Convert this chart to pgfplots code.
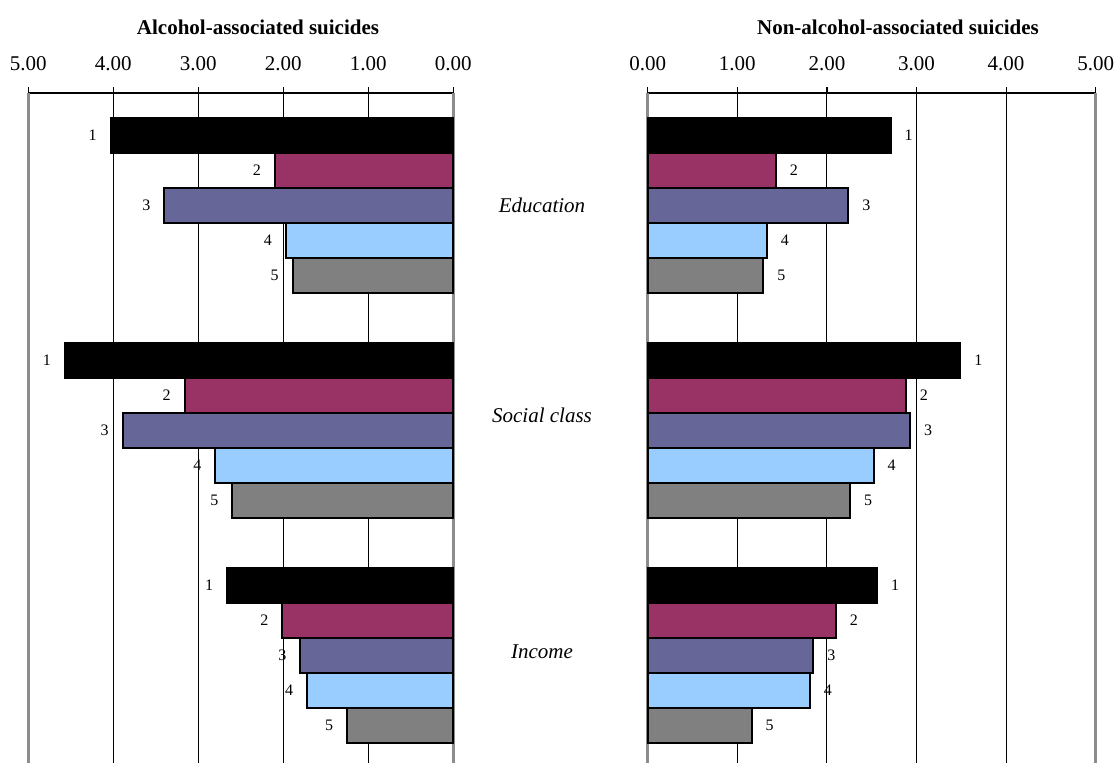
\documentclass[border=0pt]{standalone}
\usepackage{pgfplots}
\pgfplotsset{compat=1.18}
\usepackage{fontspec}
\setmainfont{Liberation Serif}
\definecolor{s2}{HTML}{993366}
\definecolor{s3}{HTML}{666699}
\definecolor{s4}{HTML}{99CCFF}
\definecolor{s5}{HTML}{808080}
\definecolor{edge}{HTML}{8C8C8C}
\newcommand{\bigf}{\fontsize{10.5}{12.6}\selectfont}
\newcommand{\smallf}{\fontsize{8}{9.6}\selectfont}
\pgfplotsset{
  panel/.style={
    scale only axis, height=337.5pt,
    xbar, bar width=17.5pt,
    xmin=0, xmax=5, ymin=-0.5, ymax=2.5, y dir=reverse,
    axis x line*=top, axis y line=none,
    axis line style={-},
    x axis line style={black, line width=0.75pt},
    xtick={1,2,3,4}, extra x ticks={0,5},
    xmajorgrids, grid style={black, line width=0.5pt},
    extra x tick style={grid style={edge, line width=1.5pt}, tick style={black, line width=0.6pt}},
    tick align=outside, major tick length=3pt,
    tick style={black, line width=0.6pt},
    ytick=\empty,
    /pgf/number format/.cd, fixed, fixed zerofill, precision=2, assume math mode=true,
    /pgfplots/.cd,
    xticklabel style={font=\bigf, yshift=4.5pt},
    clip=false,
    nodes near coords style={font=\smallf, text=black, inner sep=0pt},
  }
}
\begin{document}
\begin{tikzpicture}
\path[use as bounding box] (0,0) rectangle (559.5pt,-381pt);
% Left panel
\begin{axis}[panel, width=212.5pt, x dir=reverse,
  at={(14.15pt,-46.5pt)}, anchor=north west,
  every node near coord/.append style={anchor=east, xshift=-6.5pt}]
\addplot[fill=black, draw=black, line width=1pt, bar shift=35pt, nodes near coords={1}]
  coordinates {(4.03,0) (4.57,1) (2.66,2)};
\addplot[fill=s2, draw=black, line width=1pt, bar shift=17.5pt, nodes near coords={2}]
  coordinates {(2.10,0) (3.16,1) (2.01,2)};
\addplot[fill=s3, draw=black, line width=1pt, bar shift=0pt, nodes near coords={3}]
  coordinates {(3.40,0) (3.89,1) (1.80,2)};
\addplot[fill=s4, draw=black, line width=1pt, bar shift=-17.5pt, nodes near coords={4}]
  coordinates {(1.97,0) (2.80,1) (1.72,2)};
\addplot[fill=s5, draw=black, line width=1pt, bar shift=-35pt, nodes near coords={5}]
  coordinates {(1.89,0) (2.60,1) (1.25,2)};
\end{axis}
% Right panel
\begin{axis}[panel, width=224pt,
  at={(323.85pt,-46.5pt)}, anchor=north west,
  every node near coord/.append style={anchor=west, xshift=6.5pt}]
\addplot[fill=black, draw=black, line width=1pt, bar shift=35pt, nodes near coords={1}]
  coordinates {(2.71,0) (3.49,1) (2.56,2)};
\addplot[fill=s2, draw=black, line width=1pt, bar shift=17.5pt, nodes near coords={2}]
  coordinates {(1.43,0) (2.88,1) (2.10,2)};
\addplot[fill=s3, draw=black, line width=1pt, bar shift=0pt, nodes near coords={3}]
  coordinates {(2.24,0) (2.93,1) (1.85,2)};
\addplot[fill=s4, draw=black, line width=1pt, bar shift=-17.5pt, nodes near coords={4}]
  coordinates {(1.33,0) (2.52,1) (1.81,2)};
\addplot[fill=s5, draw=black, line width=1pt, bar shift=-35pt, nodes near coords={5}]
  coordinates {(1.29,0) (2.26,1) (1.16,2)};
\end{axis}
% Titles and category labels
\node[font=\bigf\bfseries] at (129pt,-13.5pt) {Alcohol-associated suicides};
\node[font=\bigf\bfseries] at (449pt,-13.5pt) {Non-alcohol-associated suicides};
\node[font=\bigf\itshape] at (271pt,-102.6pt) {Education};
\node[font=\bigf\itshape] at (271pt,-207.9pt) {Social class};
\node[font=\bigf\itshape] at (271pt,-326pt) {Income};
\end{tikzpicture}
\end{document}
